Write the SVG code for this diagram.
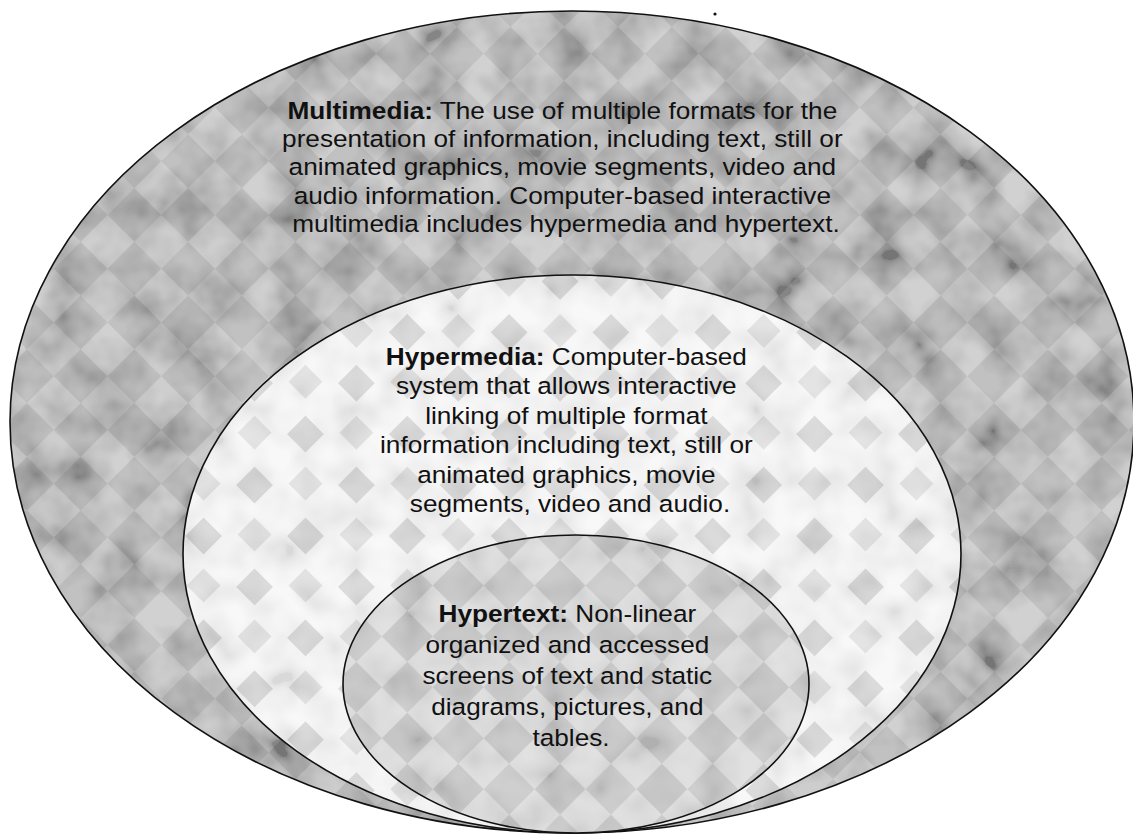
<svg xmlns="http://www.w3.org/2000/svg" width="1133" height="836" viewBox="0 0 1133 836">
  <style>
    .shape { stroke: #111; stroke-width: 1.6; }
    .label { font-family: "Liberation Sans", Arial, sans-serif; font-size: 23.3px; fill: #111; text-anchor: middle; }
    .term { font-weight: bold; }
  </style>
  <defs>
    <pattern id="pOuter" width="76" height="76" patternUnits="userSpaceOnUse" patternTransform="rotate(45)">
      <rect width="76" height="76" fill="#a6a6a6"/>
      <rect width="38" height="38" fill="#bebebe"/>
      <rect x="38" y="38" width="38" height="38" fill="#b8b8b8"/>
    </pattern>
    <pattern id="pMiddle" width="72" height="72" patternUnits="userSpaceOnUse" patternTransform="rotate(45)">
      <rect width="72" height="72" fill="#f7f7f7"/>
      <rect x="6" y="6" width="26" height="26" fill="#d6d6d6"/>
      <rect x="42" y="42" width="24" height="24" fill="#e0e0e0"/>
    </pattern>
    <pattern id="pInner" width="72" height="72" patternUnits="userSpaceOnUse" patternTransform="rotate(45)">
      <rect width="72" height="72" fill="#dddddd"/>
      <rect width="36" height="36" fill="#c4c4c4"/>
      <rect x="36" y="36" width="36" height="36" fill="#c8c8c8"/>
    </pattern>
    <filter id="mottle" x="0" y="0" width="100%" height="100%">
      <feTurbulence type="fractalNoise" baseFrequency="0.022" numOctaves="3" seed="7" result="n"/>
      <feColorMatrix in="n" type="matrix" values="1 0 0 0 0  1 0 0 0 0  1 0 0 0 0  0 0 0 0 0.3" result="g"/>
      <feComponentTransfer in="g" result="c">
        <feFuncR type="linear" slope="1.9" intercept="-0.35"/>
        <feFuncG type="linear" slope="1.9" intercept="-0.35"/>
        <feFuncB type="linear" slope="1.9" intercept="-0.35"/>
      </feComponentTransfer>
      <feComposite in="c" in2="SourceGraphic" operator="in"/>
    </filter>
    <filter id="mottleLight" x="0" y="0" width="100%" height="100%">
      <feTurbulence type="fractalNoise" baseFrequency="0.03" numOctaves="2" seed="11" result="n"/>
      <feColorMatrix in="n" type="matrix" values="1 0 0 0 0  1 0 0 0 0  1 0 0 0 0  0 0 0 0 0.12" result="g"/>
      <feComponentTransfer in="g" result="c">
        <feFuncR type="linear" slope="1.8" intercept="-0.3"/>
        <feFuncG type="linear" slope="1.8" intercept="-0.3"/>
        <feFuncB type="linear" slope="1.8" intercept="-0.3"/>
      </feComponentTransfer>
      <feComposite in="c" in2="SourceGraphic" operator="in"/>
    </filter>
  </defs>

  <rect width="1133" height="836" fill="#ffffff"/>
  <circle cx="715" cy="14" r="1.6" fill="#111"/>

  <g id="multimedia">
    <ellipse cx="572" cy="422" rx="562" ry="411" fill="url(#pOuter)"/>
    <ellipse cx="572" cy="422" rx="562" ry="411" fill="#000" filter="url(#mottle)"/>
    <ellipse class="shape" cx="572" cy="422" rx="562" ry="411" fill="none"/>
    <text class="label" transform="translate(566 0) scale(1.125 1)">
      <tspan x="0" y="119"><tspan class="term">Multimedia:</tspan> The use of multiple formats for the</tspan>
      <tspan x="0" y="147.3">presentation of information, including text, still or</tspan>
      <tspan x="0" y="175.5">animated graphics, movie segments, video and</tspan>
      <tspan x="0" y="203.8">audio information. Computer-based interactive</tspan>
      <tspan x="0" y="232">multimedia includes hypermedia and hypertext.</tspan>
    </text>
  </g>

  <g id="hypermedia">
    <ellipse cx="572" cy="554" rx="389" ry="279" fill="url(#pMiddle)"/>
    <ellipse cx="572" cy="554" rx="389" ry="279" fill="#000" filter="url(#mottleLight)"/>
    <ellipse class="shape" cx="572" cy="554" rx="389" ry="279" fill="none"/>
    <text class="label" transform="translate(570 0) scale(1.125 1)">
      <tspan x="0" y="365"><tspan class="term">Hypermedia:</tspan> Computer-based</tspan>
      <tspan x="0" y="394.4">system that allows interactive</tspan>
      <tspan x="0" y="423.8">linking of multiple format</tspan>
      <tspan x="0" y="453.2">information including text, still or</tspan>
      <tspan x="0" y="482.6">animated graphics, movie</tspan>
      <tspan x="0" y="512">segments, video and audio.</tspan>
    </text>
  </g>

  <g id="hypertext">
    <ellipse cx="576" cy="684" rx="233" ry="149" fill="url(#pInner)"/>
    <ellipse cx="576" cy="684" rx="233" ry="149" fill="#000" filter="url(#mottleLight)"/>
    <ellipse class="shape" cx="576" cy="684" rx="233" ry="149" fill="none"/>
    <text class="label" transform="translate(571 0) scale(1.125 1)">
      <tspan x="0" y="622"><tspan class="term">Hypertext:</tspan> Non-linear</tspan>
      <tspan x="0" y="653">organized and accessed</tspan>
      <tspan x="0" y="684">screens of text and static</tspan>
      <tspan x="0" y="715">diagrams, pictures, and</tspan>
      <tspan x="0" y="746">tables.</tspan>
    </text>
  </g>

  <g id="connectors"/>
</svg>
